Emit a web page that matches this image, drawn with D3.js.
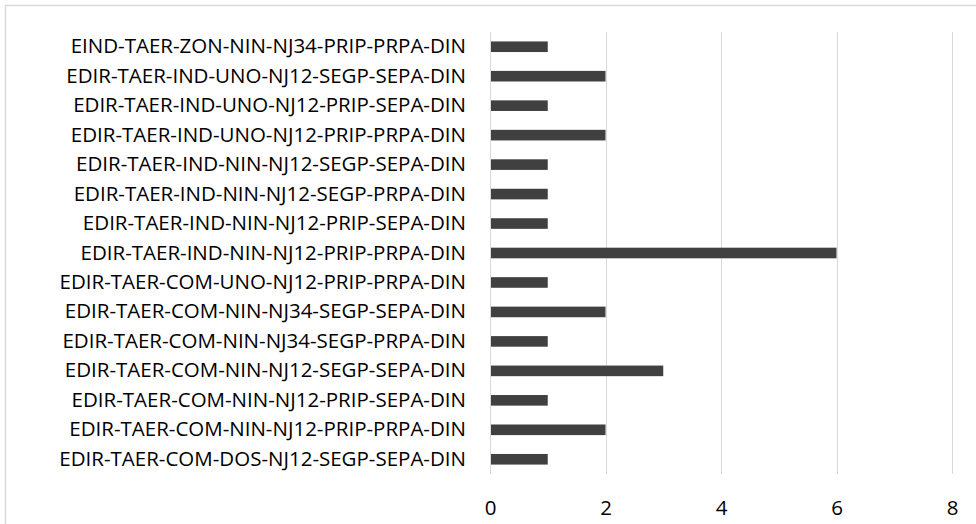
<!DOCTYPE html>
<html>
<head>
<meta charset="utf-8">
<script src="https://cdn.jsdelivr.net/npm/d3@7"></script>
<style>
  body { margin: 0; background: #fff; }
  text { font-family: "Open Sans", "Noto Sans", sans-serif; fill: #000; }
</style>
</head>
<body>
<svg id="chart"></svg>
<script>
/* data, top to bottom as drawn */
var categories = [
  "EIND-TAER-ZON-NIN-NJ34-PRIP-PRPA-DIN",
  "EDIR-TAER-IND-UNO-NJ12-SEGP-SEPA-DIN",
  "EDIR-TAER-IND-UNO-NJ12-PRIP-SEPA-DIN",
  "EDIR-TAER-IND-UNO-NJ12-PRIP-PRPA-DIN",
  "EDIR-TAER-IND-NIN-NJ12-SEGP-SEPA-DIN",
  "EDIR-TAER-IND-NIN-NJ12-SEGP-PRPA-DIN",
  "EDIR-TAER-IND-NIN-NJ12-PRIP-SEPA-DIN",
  "EDIR-TAER-IND-NIN-NJ12-PRIP-PRPA-DIN",
  "EDIR-TAER-COM-UNO-NJ12-PRIP-PRPA-DIN",
  "EDIR-TAER-COM-NIN-NJ34-SEGP-SEPA-DIN",
  "EDIR-TAER-COM-NIN-NJ34-SEGP-PRPA-DIN",
  "EDIR-TAER-COM-NIN-NJ12-SEGP-SEPA-DIN",
  "EDIR-TAER-COM-NIN-NJ12-PRIP-SEPA-DIN",
  "EDIR-TAER-COM-NIN-NJ12-PRIP-PRPA-DIN",
  "EDIR-TAER-COM-DOS-NJ12-SEGP-SEPA-DIN"
];
var values = [1, 2, 1, 2, 1, 1, 1, 6, 1, 2, 1, 3, 1, 2, 1];
var xTicks = [0, 2, 4, 6, 8];

var width = 976, height = 524;
var margin = { top: 32, bottom: 474, left: 490, right: 952 }; // plot edges in px

var data = categories.map(function (c, i) { return { name: c, value: values[i] }; });

var svg = d3.select("#chart")
    .attr("width", width)
    .attr("height", height);

// chart frame (runs off the right / bottom edge)
svg.append("rect")
    .attr("x", 5.5).attr("y", 5.5)
    .attr("width", 1000).attr("height", 600)
    .attr("fill", "none")
    .attr("stroke", "#d9d9d9")
    .attr("stroke-width", 1.5);

var xScale = d3.scaleLinear().domain([0, 8]).range([margin.left, margin.right]);
var yScale = d3.scaleBand().domain(categories)
    .range([margin.top, margin.bottom])
    .paddingInner(0.64).paddingOuter(0.32);

// vertical grid
svg.append("g").selectAll("line")
    .data(xTicks)
  .enter().append("line")
    .attr("x1", function (d) { return Math.round(xScale(d)) + 0.5; })
    .attr("x2", function (d) { return Math.round(xScale(d)) + 0.5; })
    .attr("y1", margin.top)
    .attr("y2", margin.bottom)
    .attr("stroke", "#d9d9d9")
    .attr("stroke-width", 1);

// bars
svg.append("g").selectAll("rect")
    .data(data)
  .enter().append("rect")
    .attr("x", xScale(0) + 1)
    .attr("y", function (d) { return yScale(d.name); })
    .attr("width", function (d) { return xScale(d.value) - xScale(0) - 1; })
    .attr("height", yScale.bandwidth())
    .attr("fill", "#404040");

// category labels
var yAxis = d3.axisLeft(yScale).tickSize(0).tickPadding(24);
var yAxisG = svg.append("g")
    .attr("transform", "translate(" + margin.left + ",0)")
    .call(yAxis);
yAxisG.select(".domain").remove();
yAxisG.selectAll("text")
    .style("font-size", "20.5px")
    .attr("fill", "#000");

// x tick labels
var xAxis = d3.axisBottom(xScale).tickValues(xTicks).tickSize(0).tickPadding(26);
var xAxisG = svg.append("g")
    .attr("transform", "translate(0," + margin.bottom + ")")
    .call(xAxis);
xAxisG.select(".domain").remove();
xAxisG.selectAll("text")
    .style("font-size", "20.5px")
    .attr("fill", "#000");
</script>
</body>
</html>
